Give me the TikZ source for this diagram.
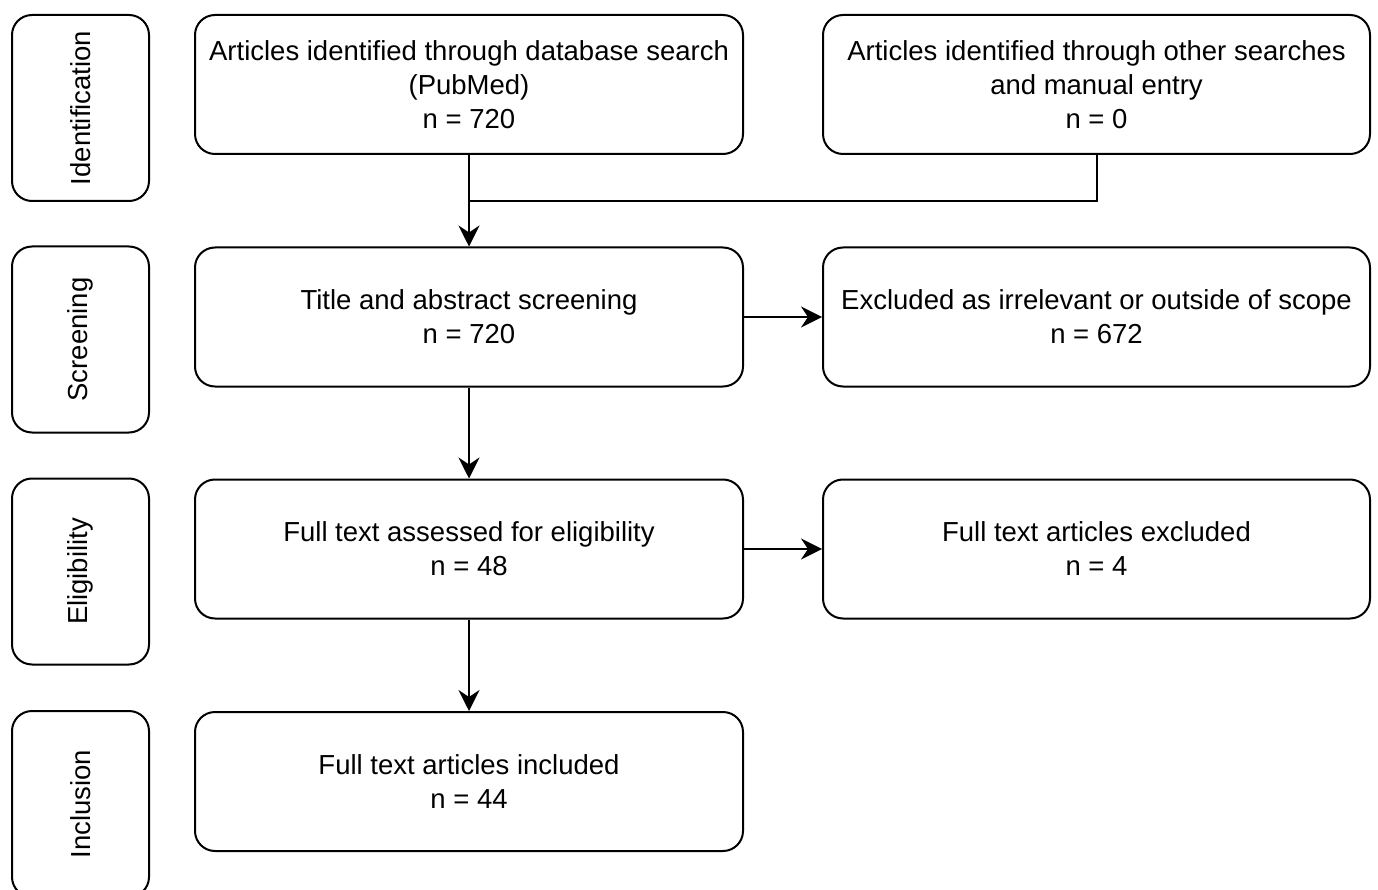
\documentclass[tikz,border=0pt]{standalone}
\usepackage{fontspec}
\setmainfont{Liberation Sans}
\usetikzlibrary{arrows.meta}
\begin{document}
\begin{tikzpicture}[x=1pt,y=-1pt,
  txt/.style={font=\fontsize{27.5}{34}\selectfont},
  box/.style={draw, line width=2pt, rounded corners=20pt, align=center, txt,
    minimum width=548pt, minimum height=139pt, inner sep=0pt},
  side/.style={draw, line width=2pt, rounded corners=20pt, txt, rotate=90,
    minimum width=186pt, minimum height=137pt, inner sep=0pt},
  arr/.style={line width=2pt, -{Stealth[length=21pt,width=21pt,inset=7pt]}},
  conn/.style={line width=2pt}
]
\useasboundingbox (0,0) rectangle (1378,890);

% side labels
\node[side] (s1) at (80.5,108) {Identification};
\node[side] (s2) at (80.5,339.5) {Screening};
\node[side] (s3) at (80.5,571.5) {Eligibility};
\node[side] (s4) at (80.5,804) {Inclusion};

% main column
\node[box] (m1) at (469,84.5) {Articles identified through database search\\(PubMed)\\n = 720};
\node[box] (m2) at (469,317) {Title and abstract screening\\n = 720};
\node[box] (m3) at (469,549) {Full text assessed for eligibility\\n = 48};
\node[box] (m4) at (469,781.5) {Full text articles included\\n = 44};

% right column
\node[box, minimum width=547pt] (r1) at (1096.5,84.5) {Articles identified through other searches\\and manual entry\\n = 0};
\node[box, minimum width=547pt] (r2) at (1096.5,317) {Excluded as irrelevant or outside of scope\\n = 672};
\node[box, minimum width=547pt] (r3) at (1096.5,549) {Full text articles excluded\\n = 4};

% connectors
\coordinate (j) at (469,201);
\draw[conn] (r1.south) |- (j);
\draw[arr] (m1.south) -- (m2.north);
\draw[arr] (m2.south) -- (m3.north);
\draw[arr] (m3.south) -- (m4.north);
\draw[arr] (m2.east) -- (r2.west);
\draw[arr] (m3.east) -- (r3.west);
\end{tikzpicture}
\end{document}
